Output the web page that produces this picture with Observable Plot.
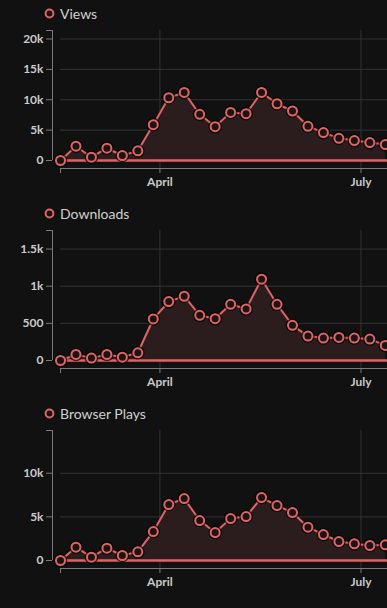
<!DOCTYPE html>
<html>
<head>
<meta charset="utf-8">
<script src="https://cdn.jsdelivr.net/npm/d3@7"></script>
<script src="https://cdn.jsdelivr.net/npm/@observablehq/plot@0.6"></script>
<style>
  html, body { margin: 0; padding: 0; background: #111111; overflow: hidden; }
  body { width: 387px; height: 608px; font-family: Lato, "Open Sans", sans-serif; }
  .panel { position: relative; height: 200px; width: 387px; }
  .legend { height: 22px; display: flex; align-items: center; padding-left: 44px; padding-top: 5px; box-sizing: border-box; color: #d0d0d0; font-size: 14px; }
  .legend svg { margin-right: 5px; }
  .panel > svg.plot { display: block; }
</style>
</head>
<body>
<div id="root"></div>
<script>
const dates = ["2019-02-15","2019-02-22","2019-03-01","2019-03-08","2019-03-15","2019-03-22","2019-03-29",
  "2019-04-05","2019-04-12","2019-04-19","2019-04-26","2019-05-03","2019-05-10","2019-05-17","2019-05-24",
  "2019-05-31","2019-06-07","2019-06-14","2019-06-21","2019-06-28","2019-07-05","2019-07-12"];
const views = [0, 2350, 540, 2020, 820, 1590, 5900, 10330, 11200, 7600, 5570, 7920, 7700, 11200,
  9340, 8150, 5630, 4590, 3660, 3280, 2950, 2620];
const downloads = [0, 81, 32, 81, 45, 104, 559, 793, 865, 608, 563, 757, 694, 1095,
  757, 473, 329, 302, 311, 302, 288, 203];
const browserPlays = [0, 1527, 382, 1412, 573, 992, 3321, 6413, 7100, 4580, 3206, 4809, 5038, 7214,
  6298, 5496, 3817, 2977, 2176, 1908, 1718, 1794];
const seriesNames = ["Views", "Downloads", "Browser Plays"];
const seriesValues = [views, downloads, browserPlays];
const yTops = [21400, 1750, 14900];
const yTickLists = [[0, 5000, 10000, 15000, 20000], [0, 500, 1000, 1500], [0, 5000, 10000]];
const xStartStr = "2019-02-15";
const xEndStr = "2019-07-13";
const xTickDates = ["2019-04-01", "2019-07-01"];

const red = "#df6565";
const areaFill = "#2b1d1d";
const gridColor = "#333333";
const axisColor = "#7a7a7a";
const textColor = "#cacaca";

const parse = d3.utcParse("%Y-%m-%d");
const xStart = parse(xStartStr), xEnd = parse(xEndStr);
const xTicks = xTickDates.map(parse);
const fmtY = d3.format("~s");
const fmtX = d3.utcFormat("%B");

const root = document.getElementById("root");
seriesNames.forEach((name, i) => {
  const data = dates.map((d, j) => ({date: parse(d), value: seriesValues[i][j]}));
  const yTop = yTops[i];
  const panel = document.createElement("div");
  panel.className = "panel";
  const legend = document.createElement("div");
  legend.className = "legend";
  legend.innerHTML = `<svg width="11" height="11"><circle cx="5.5" cy="5.5" r="3.9" fill="#1a1313" stroke="${red}" stroke-width="2"/></svg><span>${name}</span>`;
  panel.appendChild(legend);
  const chart = Plot.plot({
    width: 387,
    height: 178,
    marginTop: 8,
    marginBottom: 32,
    marginLeft: 52,
    marginRight: 0,
    style: {background: "transparent", color: textColor, fontFamily: "Lato, sans-serif", fontSize: "12px", fontWeight: "bold", overflow: "hidden"},
    x: {type: "utc", domain: [xStart, xEnd], insetLeft: 8},
    y: {domain: [0, yTop], insetBottom: 8},
    marks: [
      Plot.ruleY(yTickLists[i], {stroke: gridColor, strokeWidth: 1, insetLeft: 8}),
      Plot.ruleX(xTicks, {stroke: gridColor, strokeWidth: 1}),
      Plot.ruleX([xStart], {y1: 0, y2: yTop, dx: -8, stroke: axisColor}),
      Plot.axisY([...yTickLists[i], yTop], {tickSize: 6, tickPadding: 3, stroke: axisColor, fill: textColor, tickFormat: d => d === yTop ? "" : fmtY(d), label: null}),
      Plot.ruleY([0], {dy: 8, stroke: axisColor, insetLeft: 8}),
      Plot.axisX([xStart, ...xTicks], {tickSize: 5, tickPadding: 4, stroke: axisColor, fill: textColor, tickFormat: d => +d === +xStart ? "" : fmtX(d), label: null}),
      Plot.areaY(data, {x: "date", y: "value", fill: areaFill}),
      Plot.ruleY([0], {stroke: red, strokeWidth: 2.5, insetLeft: 8}),
      Plot.lineY(data, {x: "date", y: "value", stroke: red, strokeWidth: 2}),
      Plot.dot(data, {x: "date", y: "value", r: 6.8, fill: "#000", fillOpacity: 0.7}),
      Plot.dot(data, {x: "date", y: "value", r: 4.5, fill: "#1c1414", stroke: red, strokeWidth: 2})
    ]
  });
  chart.classList.add("plot");
  panel.appendChild(chart);
  root.appendChild(panel);
});
</script>
</body>
</html>
